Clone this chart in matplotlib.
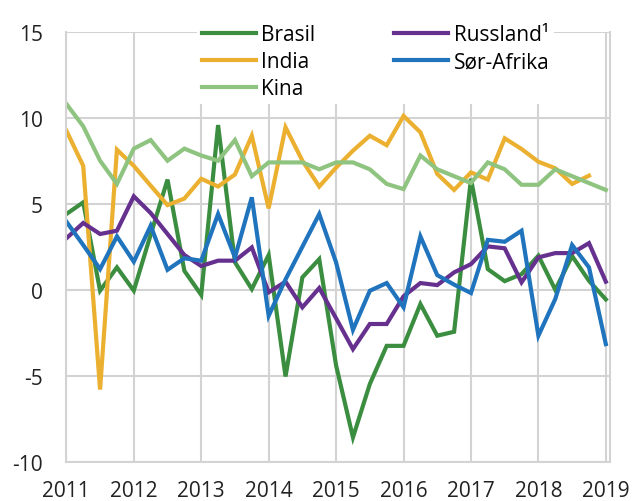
"""BRICS growth chart, quarterly 2011-2019."""
import numpy as np
import matplotlib
matplotlib.use("Agg")
import matplotlib.pyplot as plt

plt.rcParams["font.family"] = ["Open Sans", "DejaVu Sans"]
plt.rcParams["axes.unicode_minus"] = False

# quarterly values, 2011Q1 .. 2019Q1
quarters = np.arange(33) / 4 + 2011
brasil = [4.4, 5.08, -0.05, 1.3, -0.05, 3.2, 6.4, 1.1, -0.3, 9.57, 1.6, 0.04,
          2.02, -5.04, 0.72, 1.78, -4.4, -8.58, -5.48, -3.26, -3.26, -0.83, -2.67, -2.44,
          6.45, 1.2, 0.5, 0.91, 1.98, 0.0, 1.96, 0.52, -0.56]
india = [9.25, 7.2, -5.8, 8.14, 7.2, 6.05, 4.92, 5.3, 6.45, 6.0, 6.7, 8.95,
         4.73, 9.44, 7.5, 6.0, 7.1, 8.08, 8.95, 8.4, 10.1, 9.15, 6.73, 5.8,
         6.82, 6.4, 8.8, 8.18, 7.44, 7.06, 6.15, 6.63, np.nan]
kina = [10.8, 9.5, 7.5, 6.15, 8.2, 8.7, 7.5, 8.2, 7.8, 7.5, 8.7, 6.6,
        7.4, 7.4, 7.4, 7.0, 7.4, 7.4, 7.0, 6.15, 5.85, 7.8, 7.0, 6.6,
        6.2, 7.4, 7.0, 6.1, 6.1, 7.0, 6.6, 6.2, 5.8]
russland = [2.99, 3.88, 3.24, 3.43, 5.43, 4.46, 3.24, 2.02, 1.38, 1.69, 1.69, 2.46,
            -0.15, 0.47, -1.02, 0.1, -1.66, -3.45, -1.99, -1.99, -0.38, 0.39, 0.27, 1.01,
            1.49, 2.52, 2.41, 0.43, 1.88, 2.13, 2.13, 2.71, 0.47]
sor_afrika = [3.96, 2.6, 1.2, 3.1, 1.63, 3.72, 1.16, 1.83, 1.69, 4.4, 1.88, 5.37,
              -1.51, 0.6, 2.5, 4.4, 1.59, -2.33, -0.06, 0.39, -1.02, 3.1, 0.85, 0.3,
              -0.19, 2.9, 2.79, 3.43, -2.67, -0.54, 2.6, 1.3, -3.16]

years = list(range(2011, 2020))
yticks = [-10, -5, 0, 5, 10, 15]

series = [
    ("Brasil", brasil, "#3b8d3f"),
    ("India", india, "#ebb02f"),
    ("Kina", kina, "#8fc480"),
    ("Russland¹", russland, "#66308f"),
    ("Sør-Afrika", sor_afrika, "#1f74bd"),
]

fig = plt.figure(figsize=(6.32, 5.02), dpi=100)
ax = fig.add_axes([0.105, 0.078, 0.86, 0.857])

for name, vals, col in series:
    ax.plot(quarters, vals, color=col, lw=3, label=name, solid_joinstyle="miter")

grid = "#d3d3d3"
ax.set_xlim(2011, 2019.06)
ax.set_ylim(-10, 15)
ax.set_xticks(years)
ax.set_yticks(yticks)
ax.grid(True, color=grid, lw=1.5)
ax.set_axisbelow(True)
for s in ax.spines.values():
    s.set_color(grid)
    s.set_linewidth(1.5)
ax.spines["top"].set_visible(False)
ax.tick_params(length=0, labelsize=15, colors="#222222")
ax.tick_params(axis="y", pad=17)
ax.tick_params(axis="x", pad=13)

leg = ax.legend(ncol=2, loc="upper left", bbox_to_anchor=(0.222, 1.052),
                fontsize=15, frameon=True, facecolor="white", edgecolor="none",
                framealpha=1, fancybox=False, handlelength=2.6, handletextpad=0.25,
                columnspacing=3.8, labelspacing=0.3, borderpad=0.2)
leg.set_zorder(5)

fig.savefig("out.png", dpi=100)
